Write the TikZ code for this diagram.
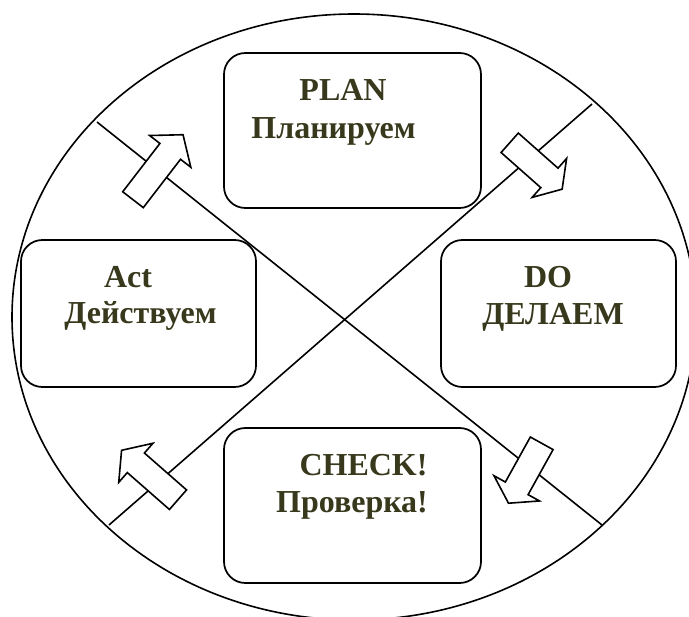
\documentclass[tikz,border=0pt]{standalone}
\usepackage{fontspec}
\setmainfont{Liberation Serif}
\definecolor{inkolive}{RGB}{56,56,28}

% block arrow: tail centre (#1,#2), direction #3 (degrees), shaft length #4, head length #5
\newcommand\cyclearrow[5]{%
  \draw[arrowbody, shift={(#1,#2)}, rotate=#3]
    (0,-13) -- (#4,-13) -- (#4,-26) -- ({#4+#5},0) -- (#4,26) -- (#4,13) -- (0,13) -- cycle;}

\begin{document}
\begin{tikzpicture}[x=0.75pt,y=-0.75pt,
  stagebox/.style={draw, line width=1.3pt, rounded corners=16pt, fill=white,
                   inner sep=0pt, outer sep=0pt},
  widebox/.style={stagebox, minimum width=192.75pt, minimum height=116.25pt},
  sidebox/.style={stagebox, minimum width=176.25pt, minimum height=110.25pt},
  caption/.style={font=\bfseries\fontsize{24}{28}\selectfont, text=inkolive,
                  anchor=base, inner sep=0pt},
  chord/.style={line width=1.2pt},
  arrowbody/.style={draw, fill=white, line width=1.2pt, line join=miter}]

\useasboundingbox (0,0) rectangle (689,617);
\clip (0,0) rectangle (689,617);
\fill[white] (0,0) rectangle (689,617);

% outer ellipse
\draw[line width=1.2pt] (354,317) ellipse [x radius=256.5pt, y radius=227.25pt];

% crossing chords
\coordinate (nw) at (97,122);
\coordinate (se) at (602,525);
\coordinate (ne) at (592,104);
\coordinate (sw) at (109,525);
\draw[chord] (nw) -- (se);
\draw[chord] (ne) -- (sw);

% the four stages
\node[widebox] (plan)  at (352.5,130.5) {};
\node[sidebox] (act)   at (138.5,313.5) {};
\node[sidebox] (do)    at (558.5,313.5) {};
\node[widebox] (check) at (352.5,505.5) {};

\node[caption] (plan1)  at (343,101)   {PLAN};
\node[caption] (plan2)  at (333.5,138) {Планируем};
\node[caption] (act1)   at (128,287)   {Act};
\node[caption] (act2)   at (140.5,323.5) {Действуем};
\node[caption] (do1)    at (548,287)   {DO};
\node[caption] (do2)    at (553,324)   {ДЕЛАЕМ};
\node[caption] (check1) at (363.5,475) {CHECK!};
\node[caption] (check2) at (352,512)   {Проверка!};

% cycle arrows crossing the chords
\cyclearrow{133}{199.7}{52.4}{61}{21}
\cyclearrow{509.7}{142.8}{-41.5}{53}{17}
\cyclearrow{541.7}{443.3}{241}{51.5}{17}
\cyclearrow{178}{499.7}{138.8}{56}{19}

\end{tikzpicture}
\end{document}
